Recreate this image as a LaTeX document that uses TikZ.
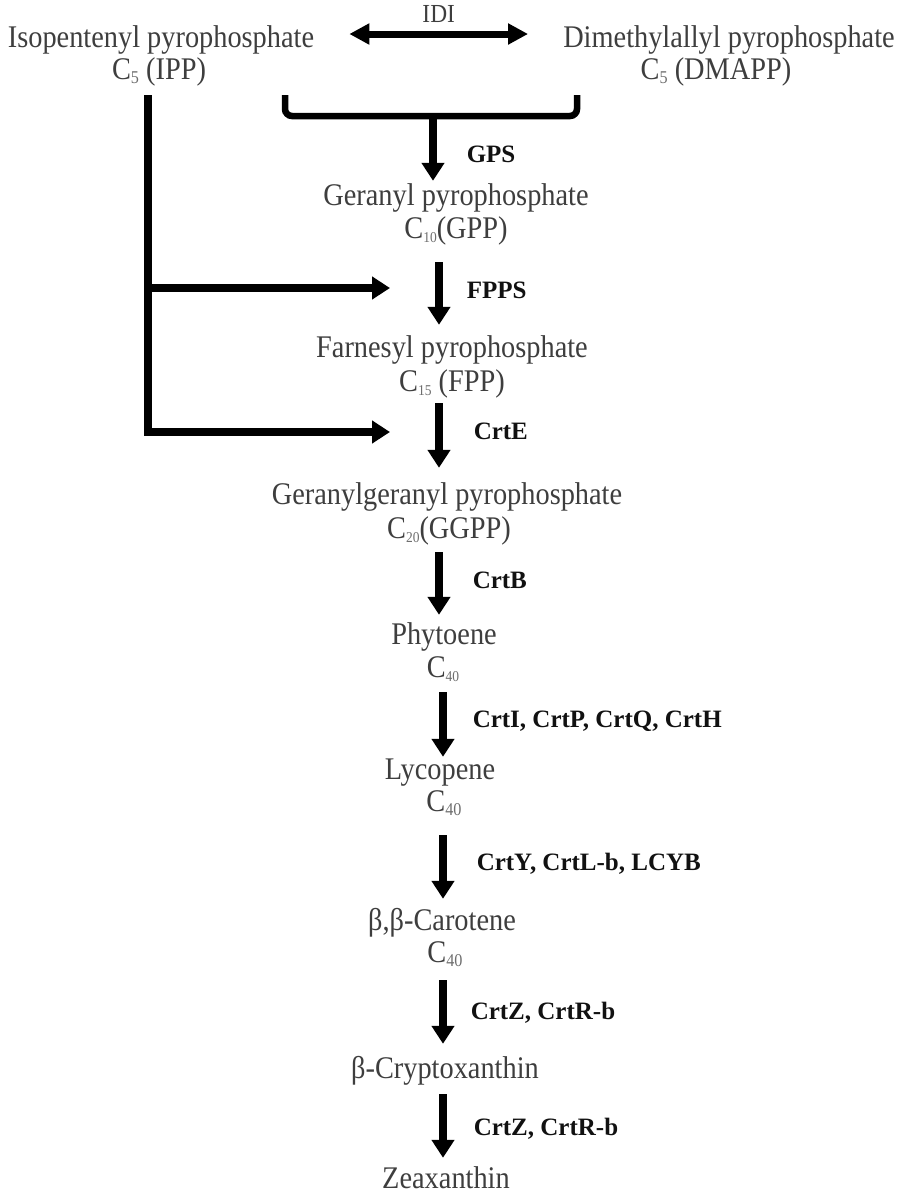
\documentclass[tikz,border=0pt]{standalone}
\usepackage{fontspec}
\setmainfont{Liberation Serif}
\newfontfamily\cpdfont[FakeStretch=0.9]{Liberation Serif}
\usepackage{xcolor}
\definecolor{cpdgray}{RGB}{62,62,62}
\definecolor{subgray}{RGB}{110,110,110}
\definecolor{enzblack}{RGB}{17,17,17}
\usepackage{tikz}
\usetikzlibrary{arrows.meta}
\newcommand{\csub}[2][15]{\raisebox{-0.15em}{\fontsize{#1}{#1}\selectfont\color{subgray}#2}}

\begin{document}
\begin{tikzpicture}[
  x=1pt, y=-1pt,
  cpd/.style={
    anchor=base, inner sep=0pt,
    text height=21pt, text depth=7pt,
    font=\cpdfont\fontsize{31.5}{36}\selectfont, text=cpdgray,
  },
  enz/.style={
    inner sep=0pt,
    font=\fontsize{25}{30}\selectfont\bfseries, text=enzblack,
  },
  flow/.style={
    draw=black, line width=7.5pt,
    -{Triangle[length=18pt, width=22pt]},
  },
  bar/.style={draw=black, line width=6.5pt},
]
\useasboundingbox (0,0) rectangle (901,1194);

\node[cpd] (ipp)    at (161,47)   {Isopentenyl pyrophosphate};
\node[cpd] (ippc)   at (159,79)   {C\csub[18]{5} (IPP)};
\node[cpd] (dmapp)  at (729,47)   {Dimethylallyl pyrophosphate};
\node[cpd] (dmappc) at (716,79)   {C\csub[18]{5} (DMAPP)};
\node[cpd] (gpp)    at (456,205)  {Geranyl pyrophosphate};
\node[cpd] (gppc)   at (456,238)  {C\csub{10}(GPP)};
\node[cpd] (fpp)    at (452,357)  {Farnesyl pyrophosphate};
\node[cpd] (fppc)   at (452,391)  {C\csub{15} (FPP)};
\node[cpd] (ggpp)   at (447,504)  {Geranylgeranyl pyrophosphate};
\node[cpd] (ggppc)  at (449,538)  {C\csub{20}(GGPP)};
\node[cpd] (phy)    at (444,644)  {Phytoene};
\node[cpd] (phyc)   at (443,677)  {C\csub{40}};
\node[cpd] (lyc)    at (440,779)  {Lycopene};
\node[cpd] (lycc)   at (444,811)  {C\csub[18]{40}};
\node[cpd] (car)    at (442,930)  {β,β-Carotene};
\node[cpd] (carc)   at (445,962)  {C\csub[18]{40}};
\node[cpd] (cry)    at (445,1078) {β-Cryptoxanthin};
\node[cpd] (zea)    at (446,1188) {Zeaxanthin};

\coordinate (ax1) at (439,0);
\coordinate (ax2) at (443,0);
\coordinate (brl) at (285,95);
\coordinate (brr) at (577,95);
\coordinate (brmid) at (433,116);
\coordinate (stemtop) at (148,95);
\coordinate (tofpps) at (390,288);
\coordinate (tocrte) at (390,432);

\draw[line width=7pt, {Triangle[length=20pt, width=20pt]}-{Triangle[length=20pt, width=20pt]},
  shorten <=35pt, shorten >=35pt]
  ([yshift=6pt]ipp.east) -- ([yshift=6pt]dmapp.west)
  node[midway, anchor=base, yshift=11.5pt, inner sep=0pt,
    font=\cpdfont\fontsize{26}{30}\selectfont, text=cpdgray] {IDI};

\draw[bar, rounded corners=7pt] (brl) |- (brmid) -| (brr);
\draw[flow] (stemtop) |- (tocrte);
\draw[flow] (stemtop |- tofpps) -- (tofpps);

\draw[flow, shorten >=3pt] (brmid) -- (gpp.north -| brmid)
  node[pos=0.57, enz, right=30pt] {GPS};
\draw[flow, shorten <=17pt, shorten >=11pt] (gppc.south -| ax1) -- (fpp.north -| ax1)
  node[midway, enz, right=24pt] {FPPS};
\draw[flow, shorten <=5pt, shorten >=15pt] (fppc.south -| ax1) -- (ggpp.north -| ax1)
  node[pos=0.39, enz, right=31pt] {CrtE};
\draw[flow, shorten <=7pt, shorten >=8pt] (ggppc.south -| ax1) -- (phy.north -| ax1)
  node[pos=0.45, enz, right=30pt] {CrtB};
\draw[flow, shorten <=8pt, shorten >=1pt] (phyc.south -| ax2) -- (lyc.north -| ax2)
  node[midway, enz, right=26pt] {CrtI, CrtP, CrtQ, CrtH};
\draw[flow, shorten <=17pt, shorten >=10pt] (lycc.south -| ax2) -- (car.north -| ax2)
  node[midway, enz, right=30pt] {CrtY, CrtL-b, LCYB};
\draw[flow, shorten <=11pt, shorten >=13pt] (carc.south -| ax2) -- (cry.north -| ax2)
  node[midway, enz, right=24pt] {CrtZ, CrtR-b};
\draw[flow, shorten <=9pt, shorten >=9pt] (cry.south -| ax2) -- (zea.north -| ax2)
  node[pos=0.53, enz, right=27pt] {CrtZ, CrtR-b};
\end{tikzpicture}
\end{document}
